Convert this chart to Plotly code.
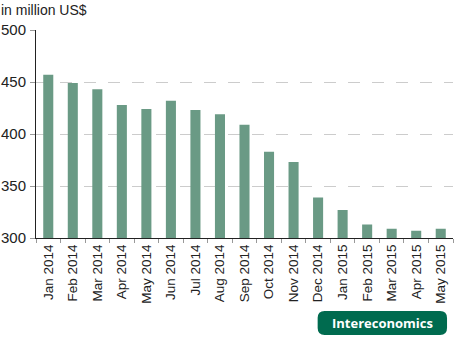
import plotly.graph_objects as go

months = ["Jan 2014", "Feb 2014", "Mar 2014", "Apr 2014", "May 2014", "Jun 2014",
          "Jul 2014", "Aug 2014", "Sep 2014", "Oct 2014", "Nov 2014", "Dec 2014",
          "Jan 2015", "Feb 2015", "Mar 2015", "Apr 2015", "May 2015"]
values = [457, 449, 443, 428, 424, 432, 423, 419, 409, 383, 373, 339,
          327, 313, 309, 307, 309]
y_ticks = [300, 350, 400, 450, 500]

W, H = 454, 340
L, R, T, B = 34, 1, 30, 102
pw, ph = W - L - R, H - T - B

def px_x(x):
    return (x - L) / pw

def px_y(y):
    return (H - B - y) / ph

fig = go.Figure(go.Bar(x=months, y=values, marker_color="#6a9a85",
                       marker_line_width=0, width=0.41))

# rounded badge
x0, x1, y0, y1, r = 317, 447, 311, 335, 7
rx, ry = r / pw, r / ph
X0, X1, Y0, Y1 = px_x(x0), px_x(x1), px_y(y1), px_y(y0)
path = (f"M {X0+rx},{Y1} L {X1-rx},{Y1} Q {X1},{Y1} {X1},{Y1-ry} "
        f"L {X1},{Y0+ry} Q {X1},{Y0} {X1-rx},{Y0} L {X0+rx},{Y0} "
        f"Q {X0},{Y0} {X0},{Y0+ry} L {X0},{Y1-ry} Q {X0},{Y1} {X0+rx},{Y1} Z")
fig.add_shape(type="path", path=path, xref="paper", yref="paper",
              fillcolor="#006b4f", line_width=0, layer="below")
fig.add_annotation(text="<b>Intereconomics</b>", x=px_x((x0 + x1) / 2), y=px_y((y0 + y1) / 2),
                   xref="paper", yref="paper", showarrow=False,
                   xanchor="center", yanchor="middle",
                   font=dict(family="Open Sans", size=13, color="white"))
fig.add_annotation(text="in million US$", x=px_x(-3), y=px_y(10), xref="paper", yref="paper",
                   xanchor="left", yanchor="middle", showarrow=False,
                   font=dict(family="Liberation Sans", size=14, color="#222"))

fig.update_layout(
    width=W, height=H, margin=dict(l=L, r=R, t=T, b=B),
    paper_bgcolor="white", plot_bgcolor="white", showlegend=False,
    font=dict(family="Liberation Sans", size=13, color="#222"),
)
fig.update_xaxes(type="category", tickangle=-90, showline=True, linecolor="#222", linewidth=1,
                 ticks="outside", tickson="boundaries", ticklen=4, tickcolor="#999",
                 showgrid=False, range=[-0.5, len(months) - 0.5],
                 tickfont=dict(size=13.5))
fig.update_yaxes(range=[300, 500], tickvals=y_ticks, showline=True, linecolor="#222",
                 linewidth=1, ticks="outside", ticklen=5, tickcolor="#999",
                 showgrid=True, gridcolor="#cccccc", griddash="12px,12px", gridwidth=1,
                 zeroline=False, tickfont=dict(size=15), ticklabelstandoff=1)

fig.write_html("out.html")
